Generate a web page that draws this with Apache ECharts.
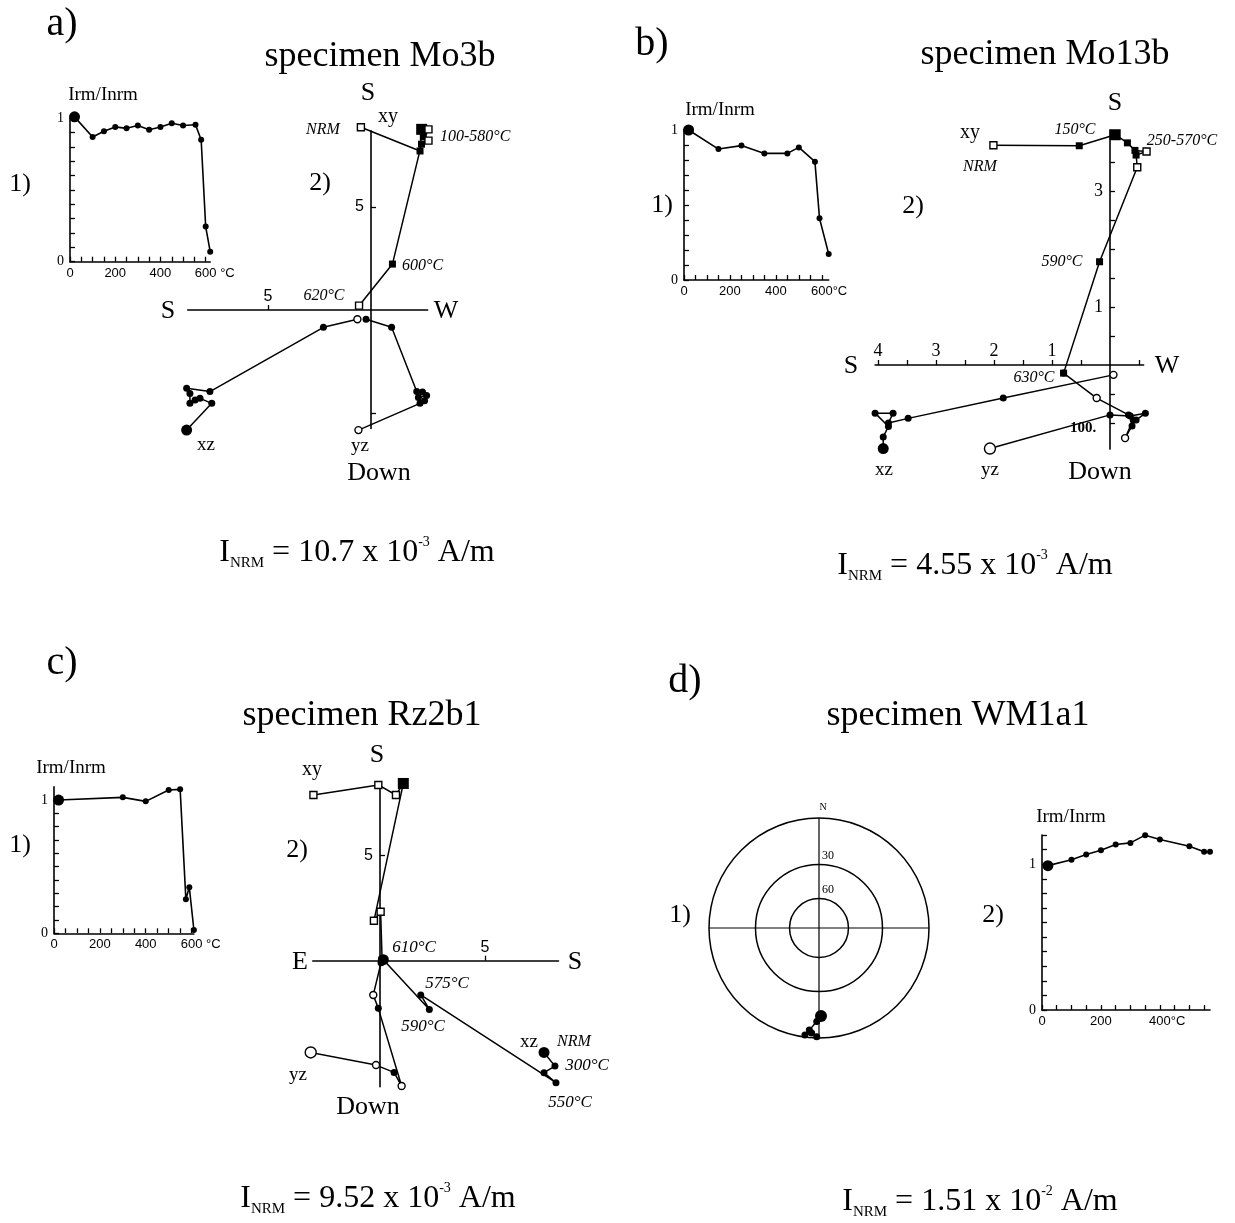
<!DOCTYPE html>
<html><head><meta charset="utf-8">
<script src="https://cdn.jsdelivr.net/npm/echarts@6/dist/echarts.min.js"></script>
<style>html,body{margin:0;padding:0;background:#fff}#c{width:1235px;height:1223px}</style>
</head><body><div id="c"></div>
<script>
// ================= DATA =================
// --- Irm/Inrm thermal demagnetisation curves ---
const a1Temps = [20,100,150,200,250,300,350,400,450,500,555,580,600,620];
const a1Ratio = [1.01,0.87,0.91,0.94,0.93,0.95,0.92,0.94,0.965,0.95,0.955,0.85,0.245,0.07];
const b1Temps = [20,150,250,350,450,500,570,590,630];
const b1Ratio = [1.0,0.873,0.896,0.844,0.844,0.884,0.789,0.411,0.173];
const c1Temps = [20,300,400,500,550,575,590,610];
const c1Ratio = [1.0,1.02,0.99,1.075,1.08,0.255,0.345,0.025];
const d2Temps = [20,100,150,200,250,300,350,400,500,550,570];
const d2Ratio = [0.99,1.03,1.066,1.096,1.135,1.146,1.199,1.169,1.123,1.085,1.085];

// tick values / tick labels
const tempTicks600 = [0,50,100,150,200,250,300,350,400,450,500,550,600];
const tempTicks550 = [0,50,100,150,200,250,300,350,400,450,500,550];
const tempLabels600 = [0,200,400,600];
const tempLabels400 = [0,200,400];
const ratioTicks10 = [0,0.1,0.2,0.3,0.4,0.5,0.6,0.7,0.8,0.9,1.0];
const ratioTicks12 = [0,0.1,0.2,0.3,0.4,0.5,0.6,0.7,0.8,0.9,1.0,1.1,1.2];
const ratioLabels = [0,1];

// --- Zijderveld diagrams ---
const a2XY = [[-0.49,8.87],[2.38,7.72],[2.46,8.77],[2.79,8.77],[2.54,8.41],[2.79,8.22],[2.45,8.05],[1.04,2.23],[-0.58,0.21]];
const a2XZ = [[-8.95,-5.83],[-7.73,-4.53],[-8.30,-4.29],[-8.54,-4.37],[-8.79,-4.53],[-8.79,-4.05],[-8.95,-3.80],[-7.82,-3.96],[-2.31,-0.84],[-0.66,-0.45]];
const a2YZ = [[-0.61,-5.83],[2.38,-4.53],[2.60,-4.40],[2.70,-4.15],[2.30,-4.25],[2.50,-3.98],[2.22,-3.96],[1.00,-0.84],[-0.24,-0.45]];
const a2XTicks = [-5], a2XLabels = [-5], a2YTicks = [5,-5], a2YLabels = [5];

const b2XY = [[-2.01,3.79],[-0.53,3.78],[0.09,3.97],[0.30,3.83],[0.43,3.70],[0.63,3.68],[0.45,3.62],[0.47,3.41],[-0.18,1.78],[-0.80,-0.14]];
const b2XZ = [[-3.91,-1.44],[-3.91,-1.24],[-3.82,-1.06],[-4.05,-0.83],[-3.74,-0.83],[-3.82,-1.0],[-3.48,-0.92],[-1.84,-0.57],[0.06,-0.17]];
const b2YZ = [[-2.07,-1.44],[0,-0.86],[0.35,-0.88],[0.61,-0.83],[0.45,-0.95],[0.38,-1.05],[0.26,-1.26],[0.40,-0.95],[0.32,-0.86],[-0.23,-0.57],[-0.80,-0.14]];
const b2XTicks = [-4,-3.5,-3,-2.5,-2,-1.5,-1,-0.5,0.5], b2XLabels = [-4,-3,-2,-1];
const b2YTicks = [-1,-0.5,0.5,1,1.5,2,2.5,3,3.5], b2YLabels = [1,3];

const c2XY = [[-3.17,7.89],[-0.08,8.37],[0.76,7.89],[1.11,8.44],[-0.29,1.90],[0.03,2.33],[0.10,0.05]];
const c2XZ = [[7.81,-4.37],[8.33,-5.02],[7.81,-5.33],[8.38,-5.81],[1.94,-1.63],[2.35,-2.32],[0.16,0.05]];
const c2YZ = [[-3.30,-4.37],[-0.19,-4.97],[0.67,-5.32],[1.03,-5.97],[-0.08,-2.27],[-0.32,-1.63],[0.05,-0.10]];
const c2XTicks = [5], c2XLabels = [5], c2YTicks = [5], c2YLabels = [5];

// --- Stereonet (declination, inclination in degrees) ---
const d1Dec = [178.7,181.4,185.4,187.5,184.0,181.2];
const d1Inc = [12.7,9.2,4.0,1.1,2.5,0.7];
const d1RingInc = [60,30];

// ================= RENDER =================
const BLACK = '#000';
const SERIF = '"Liberation Serif","Times New Roman",serif';
const SANS = '"Liberation Sans",Arial,sans-serif';
const chart = echarts.init(document.getElementById('c'), null, {renderer:'canvas', width:1235, height:1223});

const grids = [], xAxes = [], yAxes = [], series = [];

function irmPanel(box, xMax, yMax, temps, vals, xTicks, xLabels, yTicks, yLabels, unit) {
  const gi = grids.length;
  grids.push({left:box[0], top:box[1], width:box[2], height:box[3]});
  const last = xLabels[xLabels.length-1];
  xAxes.push({gridIndex:gi, type:'value', min:0, max:xMax,
    axisLine:{onZero:false, lineStyle:{color:BLACK, width:1.6}},
    axisTick:{inside:true, length:5, customValues:xTicks, lineStyle:{color:BLACK, width:1.3}},
    axisLabel:{customValues:xLabels, color:BLACK, fontFamily:SANS, fontSize:13, margin:5,
      formatter: v => v === last ? '{h|' + unit + '}' + v + unit : String(v),
      rich:{h:{color:'rgba(0,0,0,0)', fontFamily:SANS, fontSize:13}}},
    splitLine:{show:false}});
  yAxes.push({gridIndex:gi, type:'value', min:0, max:yMax,
    axisLine:{onZero:false, lineStyle:{color:BLACK, width:1.6}},
    axisTick:{inside:true, length:5, customValues:yTicks, lineStyle:{color:BLACK, width:1.3}},
    axisLabel:{customValues:yLabels, color:BLACK, fontFamily:SERIF, fontSize:14, margin:6},
    splitLine:{show:false}});
  series.push({type:'line', xAxisIndex:gi, yAxisIndex:gi, clip:false, animation:false,
    data: temps.map((t,i)=>[t, vals[i]]),
    symbol:'circle', symbolSize:(v,p)=> p.dataIndex===0 ? 11 : 6,
    itemStyle:{color:BLACK}, lineStyle:{color:BLACK, width:1.6}});
}

function zPanel(ox, oy, s, ext, xTicks, xLabels, yTicks, yLabels, lblFont) {
  const gi = grids.length;
  grids.push({left: ox + ext[0]*s, top: oy - ext[3]*s, width:(ext[1]-ext[0])*s, height:(ext[3]-ext[2])*s});
  xAxes.push({gridIndex:gi, type:'value', min:ext[0], max:ext[1],
    axisLine:{onZero:true, lineStyle:{color:BLACK, width:1.6}},
    axisTick:{inside:true, length:5, customValues:xTicks, lineStyle:{color:BLACK, width:1.3}},
    axisLabel:{show:false}, splitLine:{show:false}});
  yAxes.push({gridIndex:gi, type:'value', min:ext[2], max:ext[3],
    axisLine:{onZero:true, lineStyle:{color:BLACK, width:1.6}},
    axisTick:{inside:true, length:5, customValues:yTicks, lineStyle:{color:BLACK, width:1.3}},
    axisLabel:{show:false}, splitLine:{show:false}});
  // tick labels placed along the zero-crossing axis lines
  const lbl = (pos, dist) => ({show:true, position:pos, distance:dist, color:BLACK,
    fontFamily:lblFont[0], fontSize:lblFont[1], formatter:p => String(Math.abs(p.value[2]))});
  series.push({type:'scatter', xAxisIndex:gi, yAxisIndex:gi, symbolSize:0, silent:true, animation:false,
    itemStyle:{opacity:1, color:BLACK}, data: xLabels.map(v => [v, 0, v]), label: lbl('top', 5)});
  series.push({type:'scatter', xAxisIndex:gi, yAxisIndex:gi, symbolSize:0, silent:true, animation:false,
    itemStyle:{opacity:1, color:BLACK}, data: yLabels.map(v => [0, v, v]), label: lbl('left', 7)});
  return gi;
}

function zSeries(gi, pts, shape, openIdx, bigIdx) {
  series.push({type:'line', xAxisIndex:gi, yAxisIndex:gi, clip:false, animation:false, z:3,
    symbol: shape,
    lineStyle:{color:BLACK, width:1.5},
    data: pts.map((p,i)=>{
      const open = openIdx.includes(i), big = bigIdx.includes(i);
      return {value:p, symbolSize: big ? 11 : 7,
        itemStyle: open ? {color:'#fff', borderColor:BLACK, borderWidth:1.4} : {color:BLACK}};
    })});
}

// a)
irmPanel([70,118.3,140.2,143.4], 620, 1.0, a1Temps, a1Ratio, tempTicks600, tempLabels600, ratioTicks10, ratioLabels, ' °C');
let g = zPanel(371, 310, 20.6, [-8.9,2.75,-5.75,8.7], a2XTicks, a2XLabels, a2YTicks, a2YLabels, [SANS,16]);
zSeries(g, a2XY, 'rect', [0,3,5,8], [2]);
zSeries(g, a2XZ, 'circle', [9], [0]);
zSeries(g, a2YZ, 'circle', [0], []);
// b)
irmPanel([684,130,144.7,150], 630, 1.0, b1Temps, b1Ratio, tempTicks600, tempLabels600, ratioTicks10, ratioLabels, '°C');
g = zPanel(1110, 365, 58, [-4.05,0.58,-1.45,4.05], b2XTicks, b2XLabels, b2YTicks, b2YLabels, [SERIF,18]);
zSeries(g, b2XY, 'rect', [0,5,7], [2]);
zSeries(g, b2XZ, 'circle', [8], [0]);
zSeries(g, b2YZ, 'circle', [0,6,9], [0]);
// c)
irmPanel([54,786.7,139.9,146.6], 610, 1.1, c1Temps, c1Ratio, tempTicks600, tempLabels600, ratioTicks10, ratioLabels, ' °C');
g = zPanel(380, 960.7, 21, [-3.2,8.5,-6.0,8.4], c2XTicks, c2XLabels, c2YTicks, c2YLabels, [SANS,16]);
zSeries(g, c2XY, 'rect', [0,1,2,4,5], [3]);
zSeries(g, c2XZ, 'circle', [], [0,6]);
zSeries(g, c2YZ, 'circle', [0,1,3,5], [0]);
// d2)
irmPanel([1042,835,168,175], 570, 1.2, d2Temps, d2Ratio, tempTicks550, tempLabels400, ratioTicks12, ratioLabels, '°C');

// d1) stereonet (stereographic projection)
const stereoR = inc => Math.tan((90 - inc) / 2 * Math.PI / 180);
const ringR = d1RingInc.map(stereoR);
series.push({type:'line', coordinateSystem:'polar', polarIndex:0, animation:false, clip:false,
  data: d1Dec.map((d,i)=>[stereoR(d1Inc[i]), d]),
  symbol:'circle', symbolSize:(v,p)=> p.dataIndex===0 ? 12 : 7,
  itemStyle:{color:BLACK}, lineStyle:{color:BLACK, width:1.5}});
series.push({type:'scatter', coordinateSystem:'polar', polarIndex:0, animation:false, silent:true, symbolSize:0,
  itemStyle:{opacity:1, color:BLACK},
  data: d1RingInc.map((inc,i)=>[ringR[i], 0, inc]),
  label:{show:true, position:'right', distance:3, offset:[0,-9], color:BLACK, fontFamily:SERIF, fontSize:12,
    formatter:p => String(p.value[2])}});

// ================= TEXT =================
function T(text, x, y, size, o) {
  o = o || {};
  return {type:'text', x:x, y:y, silent:true, z:10,
    style:{text:text, fill:BLACK, fontSize:size, fontFamily:o.sans?SANS:SERIF,
      fontStyle:o.italic?'italic':'normal', fontWeight:o.bold?'bold':'normal',
      align:o.align||'center', verticalAlign:'middle'}};
}
function INRM(value, exp, x, y) {
  return {type:'text', x:x, y:y, silent:true, z:10,
    style:{text:'{m|I}{s|NRM}{m| = ' + value + ' x 10}{p|' + exp + '}{m| A/m}',
      align:'center', verticalAlign:'middle',
      rich:{m:{fontSize:32, fontFamily:SERIF, fill:BLACK, lineHeight:36},
            s:{fontSize:15, fontFamily:SERIF, fill:BLACK, verticalAlign:'bottom', lineHeight:15},
            p:{fontSize:14, fontFamily:SERIF, fill:BLACK, verticalAlign:'top', lineHeight:14}}}};
}
const texts = [
  // a
  T('a)', 62, 24, 40), T('specimen Mo3b', 380, 57, 36),
  T('Irm/Inrm', 103, 95, 19), T('1)', 20, 184, 26), T('2)', 320, 183, 26),
  T('S', 368, 93, 26), T('xy', 388, 117, 20), T('NRM', 323, 130, 16, {italic:true}),
  T('100-580°C', 440, 137, 16, {italic:true, align:'left'}),
  T('600°C', 402, 266, 16, {italic:true, align:'left'}), T('620°C', 324, 296, 16, {italic:true}),
  T('S', 168, 311, 26), T('W', 446, 311, 26),
  T('xz', 206, 445, 19), T('yz', 360, 446, 19), T('Down', 379, 473, 26),
  INRM('10.7', '-3', 357, 553),
  // b
  T('b)', 652, 44, 40), T('specimen Mo13b', 1045, 55, 36),
  T('Irm/Inrm', 720, 110, 19), T('1)', 662, 205, 26), T('2)', 913, 206, 26),
  T('S', 1115, 103, 26), T('xy', 970, 133, 20), T('NRM', 980, 167, 16, {italic:true}),
  T('150°C', 1075, 130, 16, {italic:true}), T('250-570°C', 1182, 141, 16, {italic:true}),
  T('590°C', 1062, 262, 16, {italic:true}), T('630°C', 1034, 378, 16, {italic:true}),
  T('S', 851, 366, 26), T('W', 1167, 366, 26),
  T('xz', 884, 470, 19), T('yz', 990, 470, 19), T('Down', 1100, 472, 26),
  T('100.', 1083, 428, 15, {bold:true}),
  INRM('4.55', '-3', 975, 566),
  // c
  T('c)', 62, 663, 40), T('specimen Rz2b1', 362, 716, 36),
  T('Irm/Inrm', 71, 768, 19), T('1)', 20, 845, 26), T('2)', 297, 850, 26),
  T('S', 377, 755, 26), T('xy', 312, 770, 20),
  T('610°C', 414, 948, 17, {italic:true}),
  T('E', 300, 962, 26), T('S', 575, 962, 26),
  T('575°C', 447, 984, 17, {italic:true}), T('590°C', 423, 1027, 17, {italic:true}),
  T('xz', 529, 1042, 19), T('NRM', 574, 1042, 16, {italic:true}),
  T('300°C', 587, 1066, 17, {italic:true}), T('550°C', 570, 1103, 17, {italic:true}),
  T('yz', 298, 1075, 19), T('Down', 368, 1107, 26),
  INRM('9.52', '-3', 378, 1199),
  // d
  T('d)', 685, 681, 40), T('specimen WM1a1', 958, 716, 36),
  T('1)', 680, 915, 26), T('2)', 993, 915, 26), T('Irm/Inrm', 1071, 817, 19),
  T('N', 823, 807, 10),
  INRM('1.51', '-2', 980, 1202)
];

chart.setOption({
  animation:false,
  backgroundColor:'#fff',
  grid: grids, xAxis: xAxes, yAxis: yAxes,
  polar:{center:[819,928], radius:110},
  angleAxis:{polarIndex:0, type:'value', min:0, max:360, interval:90, startAngle:90, clockwise:true,
    axisLine:{lineStyle:{color:BLACK, width:1.5}}, axisTick:{show:false}, axisLabel:{show:false},
    splitLine:{show:true, lineStyle:{color:BLACK, width:1.2}}},
  radiusAxis:{polarIndex:0, type:'value', min:0, max:1,
    axisLine:{show:false}, axisTick:{show:false, customValues:ringR},
    axisLabel:{show:false},
    splitLine:{show:true, lineStyle:{color:BLACK, width:1.5}}},
  series: series,
  graphic:{elements: texts}
});
</script>
</body></html>
